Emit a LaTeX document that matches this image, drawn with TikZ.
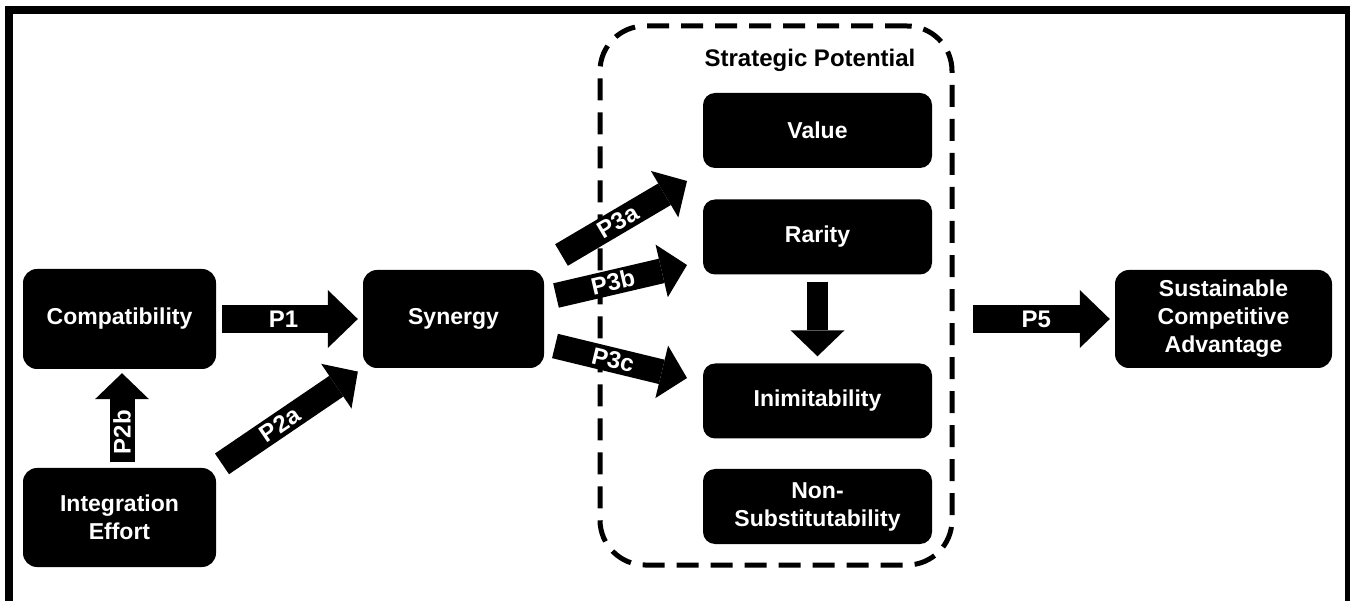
\documentclass[tikz,border=0pt]{standalone}
\usepackage{fontspec}
\setmainfont{Liberation Sans}
\usetikzlibrary{arrows.meta}

\tikzset{
  box/.style={fill=black, text=white, rounded corners=14pt, align=center,
    font=\fontsize{23}{28}\selectfont\bfseries},
  bigarrow/.style={line width=28pt, -{Triangle[length=30pt,width=58pt,line width=0pt]}},
  smallarrow/.style={line width=25pt, -{Triangle[length=26pt,width=54pt,line width=0pt]}},
  plabel/.style={text=white, sloped, inner sep=0pt, font=\fontsize{24}{28}\selectfont\bfseries},
}

\begin{document}
\begin{tikzpicture}[x=1pt, y=-1pt]
    \useasboundingbox (0,0) rectangle (1350,601);
    \draw[line width=8pt] (9,601) -- (9,10) -- (1349,10) -- (1349,601);

    \node[box, minimum width=193pt, minimum height=100pt] (Comp) at (119.5,319) {Compatibility};
    \node[box, minimum width=193pt, minimum height=99pt, node distance=198.5pt, below of=Comp] (Int) {Integration\\Effort};
    \node[box, minimum width=181pt, minimum height=98pt, node distance=334pt, right of=Comp] (Syn) {Synergy};

    \node[draw, line width=5pt, dash pattern=on 22pt off 12pt, rounded corners=45pt,
          minimum width=352pt, minimum height=539pt] (SP) at (776,295.5) {};
    \node[font=\fontsize{24}{28}\selectfont\bfseries, anchor=base] (SPtitle) at (810,67) {Strategic Potential};
    \node[box, minimum width=229pt, minimum height=75pt, rounded corners=12pt] (Val) at (817.5,130.5) {Value};
    \node[box, minimum width=229pt, minimum height=75pt, rounded corners=12pt, node distance=106.5pt, below of=Val] (Rar) {Rarity};
    \node[box, minimum width=229pt, minimum height=75pt, rounded corners=12pt, node distance=164pt, below of=Rar] (Inim) {Inimitability};
    \node[box, minimum width=229pt, minimum height=75pt, rounded corners=12pt, node distance=105.5pt, below of=Inim] (Sub) {Non-\\Substitutability};

    \node[box, minimum width=217pt, minimum height=98pt, node distance=770pt, right of=Syn] (SCA) {Sustainable\\Competitive\\Advantage};

    \draw[bigarrow, shorten <=6pt, shorten >=5pt] (Comp) -- node[plabel, pos=0.46] {P1} (Syn);
    \draw[smallarrow, shorten <=6pt, shorten >=4pt] ([xshift=2.5pt]Int.north) -- node[plabel, pos=0.36] {P2b} ([xshift=2.5pt]Comp.south);
    \draw[smallarrow, shorten <=7pt, shorten >=6pt] (Int.north east) -- node[plabel, pos=0.435] {P2a} (Syn.south west);

    % fan out of Synergy
    \coordinate (P3aS) at (561.5,255);
    \coordinate (P3aE) at (687,181);
    \coordinate (P3bS) at (556,295.5);
    \coordinate (P3bE) at (687,265);
    \coordinate (P3cS) at (555,346);
    \coordinate (P3cE) at (687,378);
    \draw[smallarrow] (P3aS) -- node[plabel, pos=0.45] {P3a} (P3aE);
    \draw[smallarrow] (P3bS) -- node[plabel, pos=0.435] {P3b} (P3bE);
    \draw[smallarrow] (P3cS) -- node[plabel, pos=0.44] {P3c} (P3cE);

    \draw[smallarrow, line width=21pt, shorten <=7pt, shorten >=7pt] (Rar) -- (Inim);

    \draw[bigarrow, shorten <=18.5pt, shorten >=5pt] (SCA.west -| SP.east) -- node[plabel, pos=0.51] {P5} (SCA.west);
\end{tikzpicture}
\end{document}
